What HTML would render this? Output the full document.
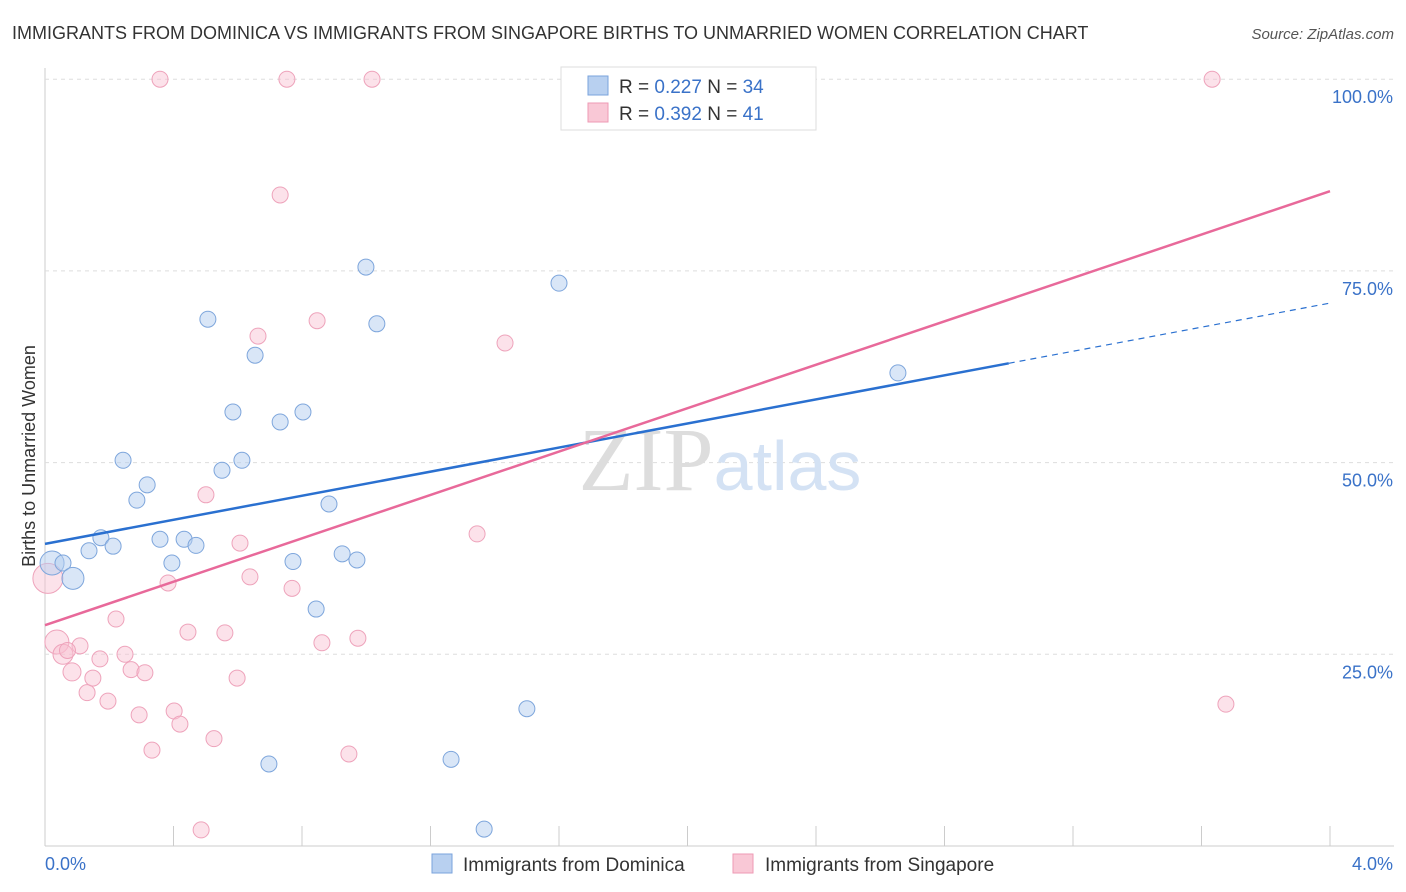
<!DOCTYPE html>
<html><head><meta charset="utf-8"><style>
body{margin:0;background:#fff;font-family:"Liberation Sans",sans-serif;}
svg{display:block}
</style></head><body>
<svg id="chart" width="1406" height="892">
<text x="12" y="39" font-size="18" fill="#333">IMMIGRANTS FROM DOMINICA VS IMMIGRANTS FROM SINGAPORE BIRTHS TO UNMARRIED WOMEN CORRELATION CHART</text>
<text x="1394" y="39" font-size="15" fill="#555" font-style="italic" text-anchor="end">Source: ZipAtlas.com</text>
<g id="grid"></g>
<text x="720" y="490" font-size="90" text-anchor="middle"><tspan fill="#ddd" font-family="Liberation Serif">ZIP</tspan><tspan fill="#d4e2f4" font-size="70">atlas</tspan></text>
<text x="35" y="456" font-size="18" fill="#333" text-anchor="middle" transform="rotate(-90 35 456)">Births to Unmarried Women</text>
<g id="marks"></g>
<g>
<rect x="561" y="67" width="255" height="63" fill="#fff" stroke="#ddd"/>
<rect x="588" y="76" width="20" height="19" fill="#b8d0f0" stroke="#7aa3dc"/>
<rect x="588" y="103" width="20" height="19" fill="#f9c8d6" stroke="#ee9ab4"/>
<text x="619" y="93" font-size="19" fill="#333">R = <tspan fill="#3a72c8">0.227</tspan>   N = <tspan fill="#3a72c8">34</tspan></text>
<text x="619" y="120" font-size="19" fill="#333">R = <tspan fill="#3a72c8">0.392</tspan>   N =  <tspan fill="#3a72c8">41</tspan></text>
</g>
<g>
<rect x="432" y="854" width="20" height="19" fill="#b8d0f0" stroke="#7aa3dc"/>
<text x="463" y="871" font-size="19" fill="#333">Immigrants from Dominica</text>
<rect x="733" y="854" width="20" height="19" fill="#f9c8d6" stroke="#ee9ab4"/>
<text x="765" y="871" font-size="19" fill="#333">Immigrants from Singapore</text>
</g>
</svg>
<script>
const xTicks=[0,0.4,0.8,1.2,1.6,2.0,2.4,2.8,3.2,3.6,4.0];
const yTicks=[25,50,75,100];
const yTickLabels=["25.0%","50.0%","75.0%","100.0%"];
const domX=[0.022,0.056,0.087,0.137,0.174,0.212,0.243,0.286,0.318,0.358,0.395,0.433,0.470,0.507,0.551,0.585,0.613,0.654,0.697,0.732,0.772,0.803,0.844,0.884,0.925,0.971,0.999,1.033,1.264,1.367,1.500,1.600,2.655,1.812];
const domY=[36.9,36.9,34.9,38.5,40.2,39.1,50.3,45.1,47.1,40.0,36.9,40.0,39.2,68.7,49.0,56.6,50.3,64.0,10.7,55.3,37.1,56.6,30.9,44.6,38.1,37.3,75.5,68.1,11.3,2.2,17.9,73.4,61.7,100.0];
const domR=[12,8,11,8,8,8,8,8,8,8,8,8,8,8,8,8,8,8,8,8,8,8,8,8,8,8,8,8,8,8,8,8,8,8];
const sgpX=[0.009,0.037,0.056,0.084,0.109,0.131,0.149,0.171,0.196,0.221,0.249,0.268,0.293,0.311,0.333,0.358,0.383,0.402,0.420,0.445,0.486,0.501,0.526,0.560,0.598,0.607,0.638,0.663,0.732,0.753,0.769,0.847,0.862,0.946,0.974,1.018,1.345,1.432,3.633,3.676,0.070];
const sgpY=[34.9,26.6,25.0,22.7,26.1,20.0,21.9,24.4,18.9,29.6,25.0,23.0,17.1,22.6,12.5,100,34.3,17.6,15.9,27.9,2.1,45.8,14.0,27.8,21.9,39.5,35.1,66.5,84.9,100,33.6,68.5,26.5,12.0,27.1,100,40.7,65.6,100,18.5,25.5];
const sgpR=[15,12,10,9,8,8,8,8,8,8,8,8,8,8,8,8,8,8,8,8,8,8,8,8,8,8,8,8,8,8,8,8,8,8,8,8,8,8,8,8,8];
const domFit=[39.4,70.8]; // y at x=0 and x=4
const domSolidEnd=3.0;
const sgpFit=[28.8,85.4];
const X=v=>45+v*321.25, Y=v=>846-v*7.668;
const NS="http://www.w3.org/2000/svg";
function mk(t,a,p){const e=document.createElementNS(NS,t);for(const k in a)e.setAttribute(k,a[k]);p.appendChild(e);return e;}
const grid=document.getElementById('grid'), marks=document.getElementById('marks');
mk('line',{x1:45,y1:68,x2:45,y2:846,stroke:'#ccc'},grid);
mk('line',{x1:45,y1:846,x2:1394,y2:846,stroke:'#ccc'},grid);
yTicks.forEach((t,i)=>{
 const g=mk('line',{x1:45,y1:Y(t),x2:1394,y2:Y(t),stroke:'#ddd','stroke-dasharray':'4,4'},grid);
 
 
 const l=mk('text',{x:1393,y:Y(t)+24,'font-size':18,fill:'#3a72c8','text-anchor':'end'},grid);
 l.textContent=yTickLabels[i];
 
 
});
xTicks.forEach(t=>{
 const k=mk('line',{x1:X(t),y1:826,x2:X(t),y2:846,stroke:'#ccc'},grid);
 
 
});
[[0,"0.0%","start",45],[4,"4.0%","end",1393]].forEach(a=>{
 const l=mk('text',{x:a[3],y:870,'font-size':18,fill:'#3a72c8','text-anchor':a[2]},grid);
 l.textContent=a[1];
 
 
});
sgpX.forEach((v,i)=>{
 const c=mk('circle',{cx:X(v),cy:Y(sgpY[i]),r:sgpR[i],fill:'rgba(248,190,208,0.45)',stroke:'#eea3bb','stroke-width':1},marks);
 
 
});
domX.forEach((v,i)=>{
 const c=mk('circle',{cx:X(v),cy:Y(domY[i]),r:domR[i],fill:'rgba(180,205,240,0.5)',stroke:'#7ea6dc','stroke-width':1},marks);
 
 
});
const dAt=x=>domFit[0]+(domFit[1]-domFit[0])*x/4;
let l1=mk('line',{x1:X(0),y1:Y(dAt(0)),x2:X(domSolidEnd),y2:Y(dAt(domSolidEnd)),stroke:'#2a70d0','stroke-width':2.5},marks);


let l2=mk('line',{x1:X(domSolidEnd),y1:Y(dAt(domSolidEnd)),x2:X(4),y2:Y(dAt(4)),stroke:'#2a70d0','stroke-width':1.2,'stroke-dasharray':'6,5'},marks);


let l3=mk('line',{x1:X(0),y1:Y(sgpFit[0]),x2:X(4),y2:Y(sgpFit[1]),stroke:'#e8699a','stroke-width':2.5},marks);


</script>
</body></html>
